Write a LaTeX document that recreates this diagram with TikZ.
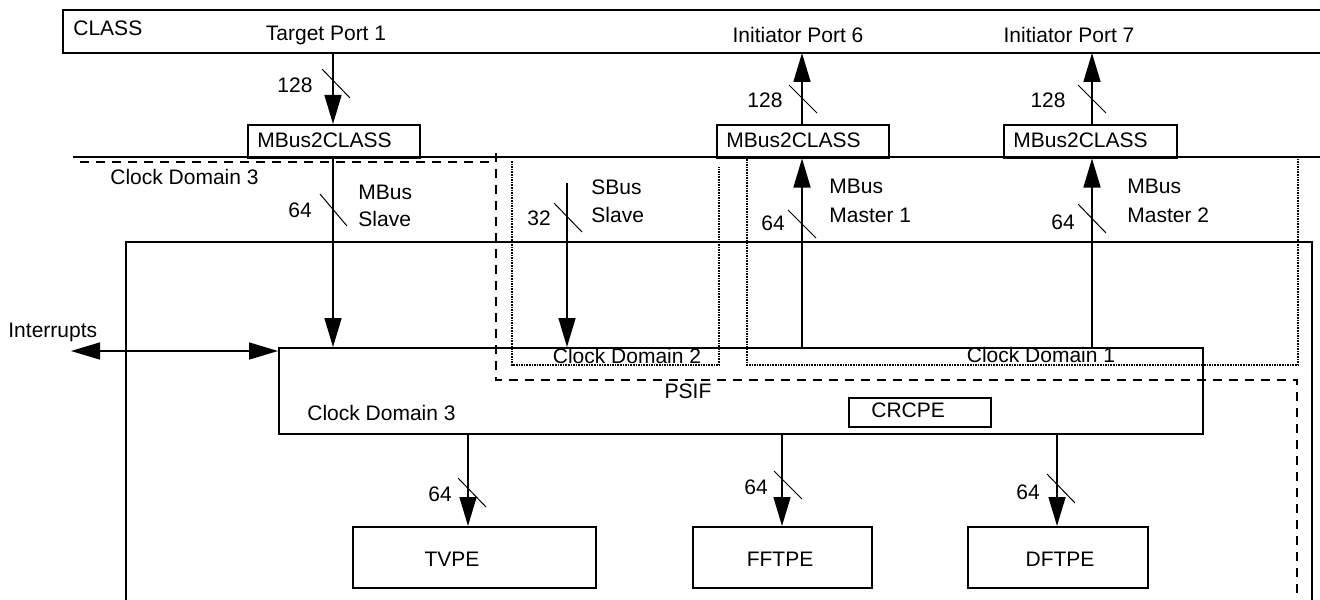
\documentclass[tikz,border=0pt]{standalone}
\usepackage{fontspec}
\setmainfont{Liberation Sans}
\usetikzlibrary{arrows.meta}
\begin{document}
\begin{tikzpicture}[x=0.5pt,y=-0.5pt,
  font=\fontsize{10.5pt}{12.6pt}\selectfont,
  box/.style={draw, line width=0.75pt, inner sep=0pt, anchor=north west},
  lbl/.style={inner sep=0pt, anchor=base},
  lblw/.style={inner sep=0pt, anchor=base west},
  bus/.style={line width=0.75pt, -{Triangle[length=14.5pt,width=8.5pt]}},
  dbus/.style={line width=0.75pt, {Triangle[length=14.5pt,width=8.5pt]}-{Triangle[length=14.5pt,width=8.5pt]}},
  solid line/.style={line width=0.75pt},
  tick/.style={line width=0.5pt},
  cdash/.style={line width=0.75pt, dash pattern=on 4.5pt off 3.5pt},
  cdot/.style={line width=0.7pt, dash pattern=on 0.8pt off 0.5pt}]
\useasboundingbox (0,0) rectangle (1320,599);
\clip (0,0) rectangle (1320,599);

% ---- CLASS block (extends past the right edge)
\draw[solid line] (1335,10) -- (63,10) -- (63,53) -- (1335,53);
\node[lblw] (classlbl) at (73,35.5) {CLASS};
\node[lbl] (tp1) at (326,40.5) {Target Port 1};
\node[lbl] (ip6) at (798,42.5) {Initiator Port 6};
\node[lbl] (ip7) at (1069,42.5) {Initiator Port 7};
\coordinate (p1) at (333,53);
\coordinate (p6) at (802,53);
\coordinate (p7) at (1092,53);

% ---- MBus2CLASS bridges
\node[box, minimum width={172*0.5pt}, minimum height={33*0.5pt}] (mc1) at (247,124) {};
\node[box, minimum width={172*0.5pt}, minimum height={33*0.5pt}] (mc2) at (716,124) {};
\node[box, minimum width={173*0.5pt}, minimum height={33*0.5pt}] (mc3) at (1003,124) {};
\node[lblw] (mc1t) at (257,147.5) {MBus2CLASS};
\node[lblw] (mc2t) at (726,147.5) {MBus2CLASS};
\node[lblw] (mc3t) at (1013,147.5) {MBus2CLASS};

% main horizontal line
\coordinate (hlA) at (73,157);
\coordinate (hlB) at (1325,157);
\draw[solid line] (hlA) -- (hlB);

% ---- PSIF block (extends below the bottom edge)
\draw[solid line] (126,610) -- (126,242) -- (1312,242) -- (1312,610);

% ---- clock domain 3 dashed boundary
\draw[cdash] (80,162) -- (496,162);
\draw[cdash] (496,153) -- (496,380) -- (1297,380) -- (1297,610);

% ---- clock domain 2 and 1 dotted boxes
\draw[cdot] (512,161) -- (512,365) -- (719,365) -- (719,167);
\draw[cdot] (747,159) -- (747,365) -- (1298,365) -- (1298,159);

% ---- central block
\node[box, minimum width={924*0.5pt}, minimum height={86*0.5pt}] (cd3) at (278,347) {};
\node[box, minimum width={142*0.5pt}, minimum height={29*0.5pt}] (crc) at (848,397) {};
\node[lblw] (crct) at (871,417.5) {CRCPE};
\node[lblw] (cd3t) at (307,420.5) {Clock Domain 3};
\node[lbl] (cd2t) at (627,363.5) {Clock Domain 2};
\node[lbl] (cd1t) at (1041,362.5) {Clock Domain 1};
\node[lbl] (psif) at (688,398.5) {PSIF};
\node[lblw] (cd3u) at (110,184.5) {Clock Domain 3};

% ---- processing elements
\node[box, minimum width={243*0.5pt}, minimum height={61*0.5pt}] (tv) at (352,526) {};
\node[box, minimum width={179*0.5pt}, minimum height={61*0.5pt}] (ff) at (692,526) {};
\node[box, minimum width={180*0.5pt}, minimum height={61*0.5pt}] (df) at (967,526) {};
\node[lbl] (tvt) at (452,566.5) {TVPE};
\node[lbl] (fft) at (780,566.5) {FFTPE};
\node[lbl] (dft) at (1060,566.5) {DFTPE};

% ---- bus arrows
\draw[bus] (p1) -- (mc1.north -| p1);
\draw[bus] (mc2.north -| p6) -- (p6);
\draw[bus] (mc3.north -| p7) -- (p7);

\coordinate (sb) at (567,183);
\draw[bus] (mc1.south -| p1) -- (cd3.north -| p1);
\draw[bus] (sb) -- (cd3.north -| sb);
\draw[bus] (cd3.north -| p6) -- (mc2.south -| p6);
\draw[bus] (cd3.north -| p7) -- (mc3.south -| p7);

\coordinate (intL) at (71,351);
\draw[dbus] (intL) -- (intL -| cd3.west);
\node[lblw] (intt) at (8,337.5) {Interrupts};

\coordinate (xtv) at (468,0);
\coordinate (xff) at (782,0);
\coordinate (xdf) at (1057,0);
\draw[bus] (cd3.south -| xtv) -- (tv.north -| xtv);
\draw[bus] (cd3.south -| xff) -- (ff.north -| xff);
\draw[bus] (cd3.south -| xdf) -- (df.north -| xdf);

% ---- width ticks and labels
\draw[tick] (322,69) -- (350,98);
\node[lbl] (w1) at (295,92.5) {128};
\draw[tick] (789,85) -- (817,113);
\node[lbl] (w6) at (765,107.5) {128};
\draw[tick] (1078,85) -- (1106,113);
\node[lbl] (w7) at (1048,107.5) {128};

\draw[tick] (320,194) -- (347,226);
\node[lbl] (w64s) at (300,217.5) {64};
\node[lblw] (ms1) at (358,199.5) {MBus};
\node[lblw] (ms2) at (358,226.5) {Slave};

\draw[tick] (554,203) -- (582,232);
\node[lbl] (w32) at (539,225.5) {32};
\node[lblw] (ss1) at (591,194.5) {SBus};
\node[lblw] (ss2) at (591,222.5) {Slave};

\draw[tick] (788,210) -- (816,238);
\node[lbl] (w64a) at (773,230.5) {64};
\node[lblw] (m11) at (829,193.5) {MBus};
\node[lblw] (m12) at (829,222.5) {Master 1};

\draw[tick] (1078,204) -- (1106,233);
\node[lbl] (w64b) at (1063,229.5) {64};
\node[lblw] (m21) at (1127,193.5) {MBus};
\node[lblw] (m22) at (1127,222.5) {Master 2};

\draw[tick] (458,478) -- (486,507);
\node[lbl] (w64tv) at (440,501.5) {64};
\draw[tick] (774,471) -- (802,499);
\node[lbl] (w64ff) at (756,494.5) {64};
\draw[tick] (1047,474) -- (1075,503);
\node[lbl] (w64df) at (1028,499.5) {64};
\end{tikzpicture}
\end{document}
